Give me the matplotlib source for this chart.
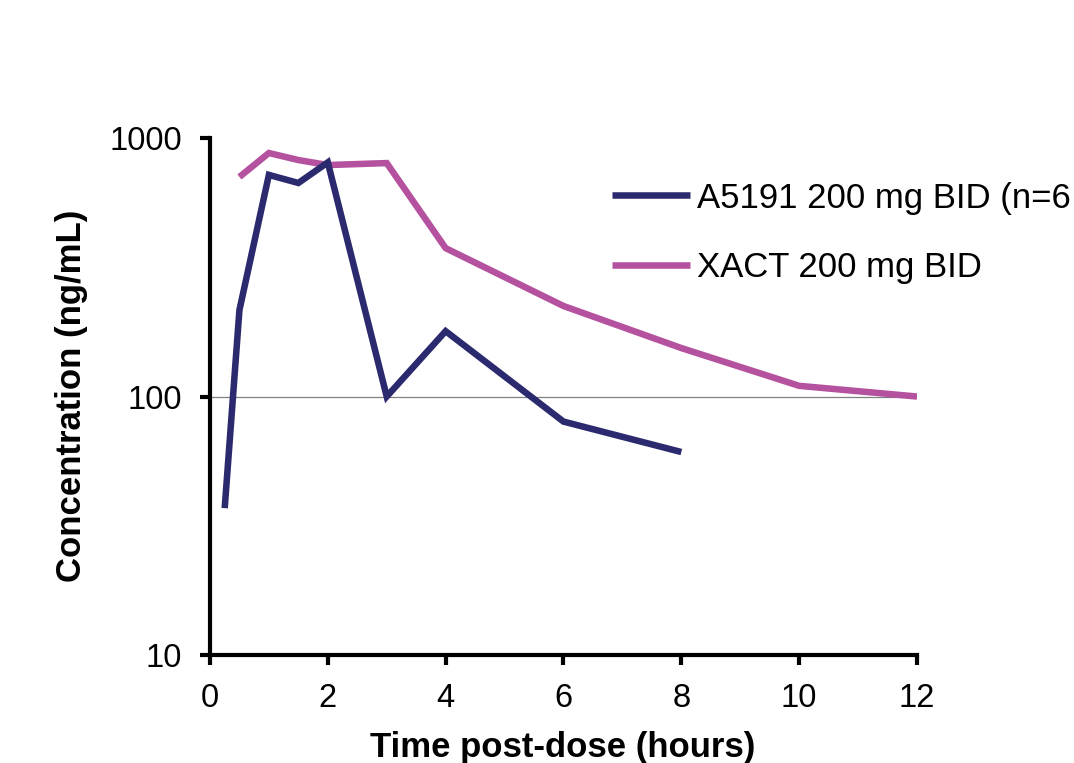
import matplotlib
matplotlib.use("Agg")
import matplotlib.pyplot as plt
from matplotlib.ticker import FixedLocator, NullLocator

plt.rcParams['font.family'] = ['Liberation Sans', 'DejaVu Sans']

# Data
a5191_time = [0.25, 0.5, 1, 1.5, 2, 3, 4, 6, 8]
a5191_conc = [37, 216, 720, 670, 805, 100, 179, 80, 61]
xact_time = [0.5, 1, 1.5, 2, 3, 4, 6, 8, 10, 12]
xact_conc = [707, 875, 822, 786, 800, 375, 224, 154, 110, 100]
a5191_label = "A5191 200 mg BID (n=6"
xact_label = "XACT 200 mg BID"
x_ticks = [0, 2, 4, 6, 8, 10, 12]
y_ticks = [10, 100, 1000]

fig = plt.figure(figsize=(10.74, 7.63), dpi=100)
ax = fig.add_axes([0.1955, 0.1415, 0.6583, 0.6776])

ax.axhline(100, color='#808080', lw=0.9, zorder=1)
ax.plot(a5191_time, a5191_conc, color='#2B2A6F', lw=4.7, label=a5191_label, zorder=3,
        solid_joinstyle='miter', solid_capstyle='butt')
ax.plot(xact_time, xact_conc, color='#B5529F', lw=4.7, label=xact_label, zorder=2,
        solid_joinstyle='miter', solid_capstyle='butt')

ax.set_yscale('log')
ax.set_xlim(0, 12)
ax.set_ylim(10, 1000)
ax.xaxis.set_major_locator(FixedLocator(x_ticks))
ax.yaxis.set_major_locator(FixedLocator(y_ticks))
ax.yaxis.set_minor_locator(NullLocator())
ax.set_yticklabels([str(v) for v in y_ticks])
ax.set_xticklabels([str(v) for v in x_ticks])

for s in ['top', 'right']:
    ax.spines[s].set_visible(False)
for s in ['left', 'bottom']:
    ax.spines[s].set_linewidth(3)
ax.tick_params(axis='both', which='major', direction='out', length=7, width=3,
               labelsize=23.5)
ax.tick_params(axis='x', pad=13)
ax.tick_params(axis='y', pad=13)

fig.text(563 / 1074, 1 - 747 / 763, "Time post-dose (hours)", fontsize=25,
         fontweight='bold', ha='center', va='center')
fig.text(72 / 1074, 1 - 396 / 763, "Concentration (ng/mL)", fontsize=25,
         fontweight='bold', ha='center', va='center', rotation=90)

leg = fig.legend(loc='upper left', bbox_to_anchor=(0.5698, 0.762), frameon=False,
                 fontsize=25, handlelength=2.25, handletextpad=0.2, labelspacing=1.05,
                 borderpad=0, borderaxespad=0)

fig.savefig("out.png", dpi=100)
